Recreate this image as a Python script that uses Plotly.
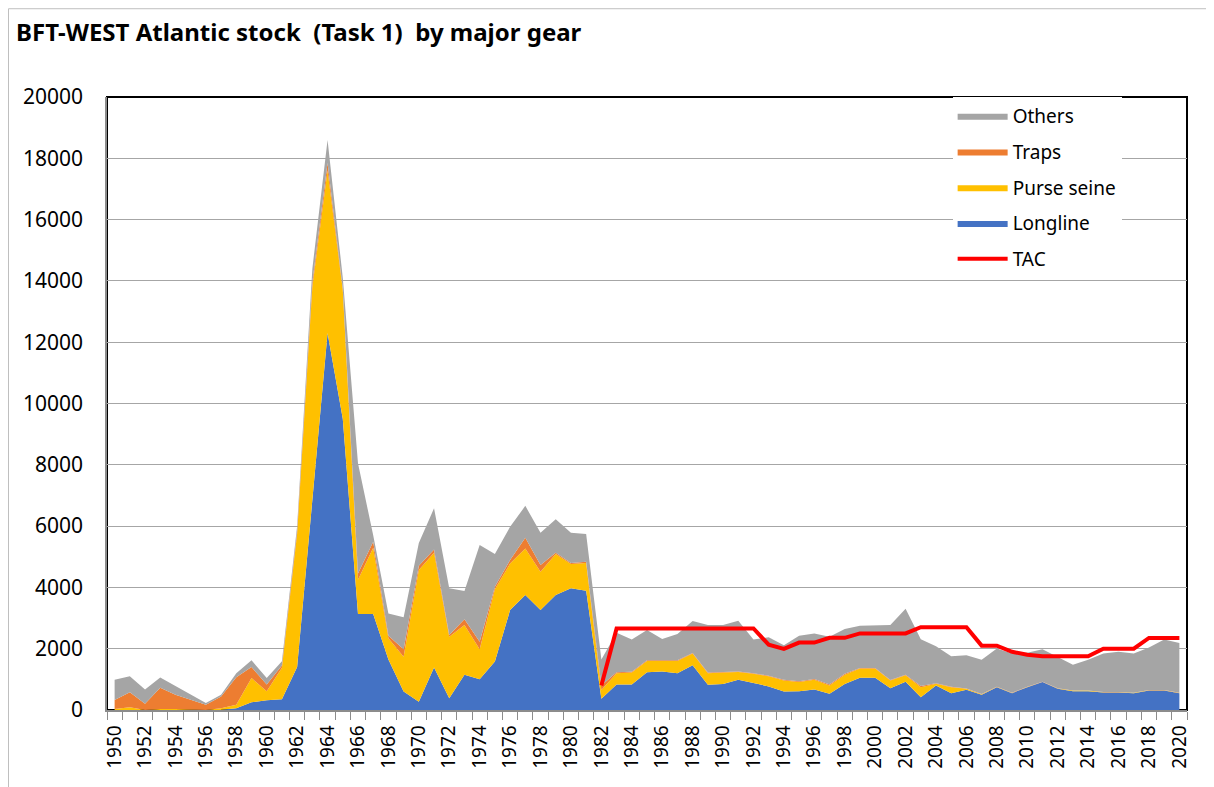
import plotly.graph_objects as go

years = list(range(1950, 2021))

# catch by gear (t)
longline = [0, 0, 0, 0, 0, 0, 0, 10, 55, 250,
            320, 350, 1400, 6800, 12300, 9500, 3130, 3130, 1650, 600,
            270, 1390, 380, 1150, 1000, 1580, 3260, 3750, 3260, 3750,
            3970, 3890, 370, 830, 830, 1230, 1260, 1200, 1460, 820,
            850, 990, 880, 770, 600, 610, 670, 530, 850, 1050,
            1050, 710, 920, 420, 800, 550, 660, 500, 745, 550,
            745, 910, 690, 614, 614, 570, 570, 548, 636, 636,
            548]
purse_seine = [30, 90, 0, 30, 30, 10, 0, 45, 120, 790,
               290, 1030, 4350, 7000, 5300, 4200, 1120, 2160, 690, 1140,
               4300, 3740, 2010, 1620, 980, 2360, 1520, 1520, 1250, 1340,
               790, 910, 280, 370, 390, 370, 350, 400, 380, 380,
               370, 250, 300, 330, 360, 300, 320, 270, 300, 300,
               300, 250, 210, 325, 55, 195, 30, 10, 5, 5,
               5, 5, 10, 22, 22, 10, 10, 12, 9, 9,
               7]
traps = [300, 490, 200, 700, 470, 330, 175, 385, 895, 360,
         220, 70, 100, 150, 250, 50, 200, 200, 80, 240,
         140, 110, 60, 190, 250, 80, 110, 350, 220, 40,
         40, 40, 150, 30, 30, 20, 20, 20, 20, 20,
         20, 20, 20, 20, 30, 30, 20, 30, 30, 20,
         20, 20, 20, 35, 15, 15, 10, 10, 10, 10,
         10, 10, 10, 4, 4, 5, 5, 5, 5, 5,
         5]
others = [660, 520, 470, 330, 280, 160, 55, 60, 130, 220,
          210, 140, 150, 450, 750, 350, 3600, 210, 730, 1050,
          740, 1340, 1520, 920, 3150, 1070, 1090, 1040, 1050, 1090,
          980, 900, 850, 1290, 1050, 990, 690, 860, 1040, 1550,
          1530, 1650, 1100, 1250, 1120, 1480, 1490, 1560, 1460, 1380,
          1380, 1790, 2150, 1530, 1210, 990, 1090, 1120, 1250, 1275,
          1110, 1055, 1020, 840, 1000, 1255, 1315, 1275, 1390, 1650,
          1630]

tac_years = list(range(1982, 2021))
tac = [800, 2660, 2660, 2660, 2660, 2660, 2660, 2660, 2660, 2660,
       2660, 2130, 1995, 2200, 2200, 2354, 2354, 2500, 2500, 2500,
       2500, 2700, 2700, 2700, 2700, 2100, 2100, 1900, 1800, 1750,
       1750, 1750, 1750, 2000, 2000, 2000, 2350, 2350, 2350]

FONT = "Noto Sans"

fig = go.Figure()

# stacked areas, bottom to top
series = [
    ("Longline", longline, "#4472C4", 4),
    ("Purse seine", purse_seine, "#FFC000", 3),
    ("Traps", traps, "#ED7D31", 2),
    ("Others", others, "#A5A5A5", 1),
]
for name, vals, col, rank in series:
    fig.add_trace(go.Scatter(
        x=years, y=vals, name=name, stackgroup="gear", mode="lines",
        line=dict(width=0, color=col), fillcolor=col,
        legendrank=rank, legendgroup=name,
    ))

fig.add_trace(go.Scatter(
    x=tac_years, y=tac, name="TAC", mode="lines",
    line=dict(color="#FF0000", width=4), legendrank=5, legendgroup="TAC",
))

# plot-area frame and outer chart border
fig.add_shape(type="rect", xref="paper", yref="paper", x0=0, x1=1, y0=0, y1=1,
              line=dict(color="black", width=2), layer="below")
fig.add_shape(type="rect", xref="paper", yref="paper",
              x0=-0.0912, x1=1.1, y0=-0.2, y1=1.144,
              line=dict(color="#bfbfbf", width=1), layer="below")

fig.update_layout(
    width=1214, height=787,
    margin=dict(l=99, r=35, t=89, b=85, autoexpand=False),
    paper_bgcolor="white", plot_bgcolor="white",
    font=dict(family=FONT, color="black"),
    title=dict(
        text="<b>BFT-WEST Atlantic stock \u00a0(Task 1) \u00a0by major gear</b>",
        x=8 / 1214, xanchor="left", xref="container",
        y=1 - 25 / 787, yanchor="middle", yref="container",
        font=dict(size=24, family=FONT),
    ),
    xaxis=dict(
        range=[1949.5, 2020.5], tickvals=list(range(1950, 2021, 2)),
        tickangle=-90, tickfont=dict(size=19), ticks="",
        showgrid=False, zeroline=False, automargin=False,
        showline=True, linecolor="#8c8c8c", linewidth=1.5,
        minor=dict(ticks="outside", tick0=1949.5, dtick=1, ticklen=8,
                   tickcolor="#8c8c8c", showgrid=False),
        ticklabelstandoff=6,
    ),
    yaxis=dict(
        range=[0, 20000], dtick=2000, tickformat="d",
        tickfont=dict(size=21), ticks="", automargin=False,
        showgrid=True, gridcolor="#a6a6a6", gridwidth=1,
        zeroline=False, showline=True, linecolor="#8c8c8c", linewidth=1.5,
        ticklabelstandoff=18,
    ),
    legend=dict(
        x=0.783, xanchor="left", y=1.0, yanchor="top",
        bgcolor="white", font=dict(size=19, family=FONT),
        traceorder="grouped", tracegroupgap=8, itemwidth=50,
    ),
    showlegend=True,
)

fig.write_html("out.html")
